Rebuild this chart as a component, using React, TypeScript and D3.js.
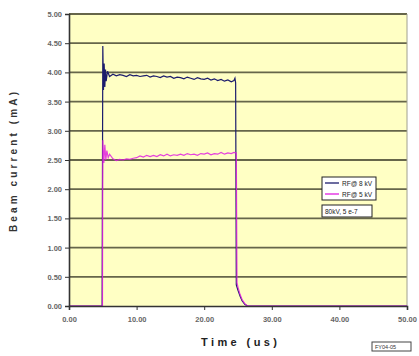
import React, { useEffect, useRef } from 'react';
import * as d3 from 'd3';

// time in microseconds, current in mA
const rf8kV: [number, number][] = [
  [0, 0], [4.9, 0], [5.0, 4.45], [5.1, 3.7], [5.2, 4.15], [5.3, 3.75], [5.4, 4.05],
  [5.5, 3.85], [5.7, 4.02], [6.0, 3.93], [6.5, 3.97], [7.0, 3.94], [7.5, 3.96],
  [8.0, 3.95], [8.5, 3.93], [9.0, 3.96], [9.5, 3.94], [10.0, 3.95], [10.5, 3.93],
  [11.0, 3.94], [11.5, 3.95], [12.0, 3.92], [12.5, 3.94], [13.0, 3.93], [13.5, 3.91],
  [14.0, 3.94], [14.5, 3.92], [15.0, 3.93], [15.5, 3.9], [16.0, 3.92], [16.5, 3.91],
  [17.0, 3.89], [17.5, 3.92], [18.0, 3.9], [18.5, 3.88], [19.0, 3.91], [19.5, 3.89],
  [20.0, 3.88], [20.5, 3.9], [21.0, 3.87], [21.5, 3.89], [22.0, 3.86], [22.5, 3.88],
  [23.0, 3.85], [23.5, 3.87], [24.0, 3.84], [24.4, 3.86], [24.55, 3.9], [24.65, 3.82],
  [24.75, 0.36], [25.0, 0.27], [25.3, 0.17], [25.6, 0.09], [26.0, 0.03], [26.4, 0],
  [50, 0],
];

const rf5kV: [number, number][] = [
  [0, 0], [4.95, 0], [5.0, 2.84], [5.15, 2.45], [5.3, 2.76], [5.45, 2.5], [5.6, 2.66],
  [5.8, 2.54], [6.0, 2.6], [6.5, 2.52], [7.0, 2.49], [7.5, 2.51], [8.0, 2.5],
  [8.5, 2.52], [9.0, 2.51], [9.5, 2.53], [10.0, 2.54], [10.5, 2.57], [11.0, 2.55],
  [11.5, 2.58], [12.0, 2.56], [12.5, 2.58], [13.0, 2.56], [13.5, 2.59], [14.0, 2.57],
  [14.5, 2.6], [15.0, 2.57], [15.5, 2.59], [16.0, 2.58], [16.5, 2.6], [17.0, 2.58],
  [17.5, 2.61], [18.0, 2.59], [18.5, 2.6], [19.0, 2.58], [19.5, 2.61], [20.0, 2.6],
  [20.5, 2.62], [21.0, 2.59], [21.5, 2.61], [22.0, 2.6], [22.5, 2.63], [23.0, 2.6],
  [23.5, 2.62], [24.0, 2.61], [24.4, 2.63], [24.75, 2.62],
  [24.85, 0.4], [25.0, 0.32], [25.3, 0.2], [25.6, 0.11], [26.0, 0.04], [26.4, 0],
  [50, 0],
];

const yTicks = [0, 0.5, 1, 1.5, 2, 2.5, 3, 3.5, 4, 4.5, 5];
const xTicks = [0, 10, 20, 30, 40, 50];
const seriesNames = ['RF@ 8 kV', 'RF@ 5 kV'];
const seriesColors = ['#1c1c6c', '#e01ee0'];
const noteText = '80kV, 5 e-7';
const footText = 'FY04-05';

export default function App() {
  const ref = useRef<SVGSVGElement>(null);

  useEffect(() => {
    const svg = d3.select(ref.current);
    svg.selectAll('*').remove();
    const font = 'Liberation Sans, Arial, sans-serif';

    const x = d3.scaleLinear().domain([0, 50]).range([69, 407]);
    const y = d3.scaleLinear().domain([0, 5]).range([306, 14]);

    svg.append('rect').attr('width', 419).attr('height', 356).attr('fill', '#fff');

    // plot area
    svg.append('rect')
      .attr('x', x(0)).attr('y', y(5))
      .attr('width', x(50) - x(0)).attr('height', y(0) - y(5))
      .attr('fill', '#ffffc4');

    svg.append('g').selectAll('line').data(yTicks.filter(d => d > 0)).enter().append('line')
      .attr('x1', x(0)).attr('x2', x(50))
      .attr('y1', d => y(d)).attr('y2', d => y(d))
      .attr('stroke', '#66664a').attr('stroke-width', 1.8);

    svg.append('line')
      .attr('x1', x(50)).attr('x2', x(50)).attr('y1', y(5)).attr('y2', y(0))
      .attr('stroke', '#a0a090').attr('stroke-width', 1);

    // data
    const line = d3.line<[number, number]>().x(d => x(d[0])).y(d => y(d[1]));
    svg.append('path').datum(rf8kV)
      .attr('d', line).attr('fill', 'none')
      .attr('stroke', seriesColors[0]).attr('stroke-width', 1.2);
    svg.append('path').datum(rf5kV)
      .attr('d', line).attr('fill', 'none')
      .attr('stroke', seriesColors[1]).attr('stroke-width', 1.2)
      .attr('stroke-opacity', 0.85);

    // axes
    const yAxis = d3.axisLeft(y).tickValues(yTicks).tickSize(4).tickFormat(d3.format('.2f'));
    const gy = svg.append('g').attr('transform', `translate(${x(0)},0)`).call(yAxis);
    const xAxis = d3.axisBottom(x).tickValues(xTicks).tickSize(4).tickFormat(d3.format('.2f'));
    const gx = svg.append('g').attr('transform', `translate(0,${y(0)})`).call(xAxis);
    [gx, gy].forEach(g => {
      g.select('.domain').attr('stroke', '#333').attr('stroke-width', 1.6);
      g.selectAll('.tick line').attr('stroke', '#333');
      g.selectAll('.tick text')
        .attr('font-family', font).attr('font-size', 7.5)
        .attr('font-weight', 'bold').attr('fill', '#666');
    });
    gx.selectAll('.tick text').attr('dy', '1.2em');

    svg.append('text')
      .attr('transform', `translate(17,162) rotate(-90)`)
      .attr('text-anchor', 'middle')
      .attr('font-family', font).attr('font-size', 10).attr('font-weight', 'bold')
      .attr('fill', '#333')
      .attr('textLength', 140).attr('lengthAdjust', 'spacing')
      .text('Beam current (mA)');

    svg.append('text')
      .attr('x', 239).attr('y', 346)
      .attr('text-anchor', 'middle')
      .attr('font-family', font).attr('font-size', 11).attr('font-weight', 'bold')
      .attr('fill', '#222')
      .attr('textLength', 76).attr('lengthAdjust', 'spacing')
      .text('Time (us)');

    // legend
    const lg = svg.append('g').attr('transform', 'translate(322,177)');
    lg.append('rect').attr('width', 54).attr('height', 23)
      .attr('fill', '#fff').attr('stroke', '#222').attr('stroke-width', 1);
    seriesNames.forEach((n, i) => {
      const yy = 6 + i * 11;
      lg.append('line').attr('x1', 3).attr('x2', 17).attr('y1', yy).attr('y2', yy)
        .attr('stroke', seriesColors[i]).attr('stroke-width', 1.3);
      lg.append('text').attr('x', 20).attr('y', yy + 2.5)
        .attr('font-family', font).attr('font-size', 6.5).attr('fill', '#222')
        .text(n);
    });

    const nb = svg.append('g').attr('transform', 'translate(322,205)');
    nb.append('rect').attr('width', 50).attr('height', 12)
      .attr('fill', '#fff').attr('stroke', '#222').attr('stroke-width', 1);
    nb.append('text').attr('x', 3).attr('y', 8.5)
      .attr('font-family', font).attr('font-size', 6.5).attr('fill', '#222')
      .text(noteText);

    const fb = svg.append('g').attr('transform', 'translate(372,342)');
    fb.append('rect').attr('width', 39).attr('height', 9)
      .attr('fill', '#fff').attr('stroke', '#444').attr('stroke-width', 1);
    fb.append('text').attr('x', 3).attr('y', 7)
      .attr('font-family', font).attr('font-size', 5.5).attr('fill', '#333')
      .text(footText);
  }, []);

  return (
    <svg ref={ref} width={419} height={356}
      style={{ position: 'absolute', left: 0, top: 0, display: 'block' }} />
  );
}
